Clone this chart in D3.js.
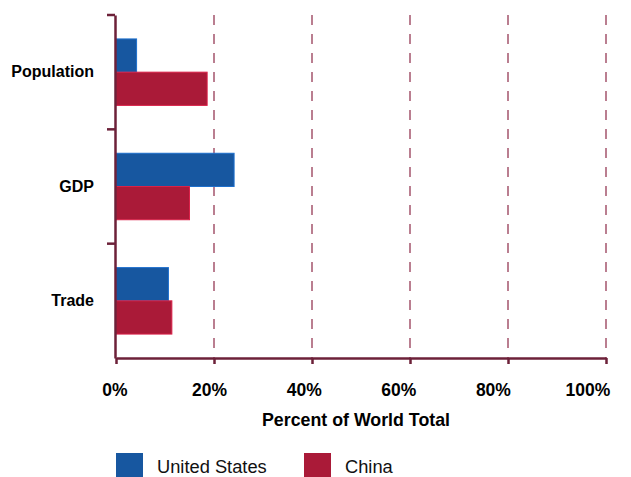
<!DOCTYPE html>
<html>
<head>
<meta charset="utf-8">
<script src="https://cdn.jsdelivr.net/npm/d3@7"></script>
<style>
  body { margin: 0; background: #fff; }
  svg { display: block; font-family: 'Liberation Sans', Arial, Helvetica, sans-serif; }
</style>
</head>
<body>
<svg id="chart" width="631" height="477"></svg>
<script>
// chart data
var categories = ['Population', 'GDP', 'Trade']
var seriesNames = ['United States', 'China']
var usValues = [4.2, 24.1, 10.7]
var chinaValues = [18.6, 15.0, 11.4]
var tickValues = [0, 20, 40, 60, 80, 100]
var axisTitle = 'Percent of World Total'

var colors = ['#1757a0', '#aa1a38']
var axisColor = '#6c2139'

var margin = { top: 15, left: 116, right: 25, bottom: 119 }
var svg = d3.select('#chart')
var width = +svg.attr('width') - margin.left - margin.right
var height = +svg.attr('height') - margin.top - margin.bottom

var rows = categories.map(function (c, i) {
  return { category: c, values: [usValues[i], chinaValues[i]] }
})

var x = d3.scaleLinear().domain([0, 100]).range([margin.left, margin.left + width])
// tick labels in the original sit a bit left of their ticks
var xLabel = d3.scaleLinear().domain([0, 100]).range([margin.left - 1, margin.left + width - 18])
var y = d3.scaleBand().domain(categories).range([margin.top, margin.top + height]).padding(0)
var ySub = d3.scaleBand().domain(seriesNames).range([0, y.bandwidth()])
  .paddingInner(0).paddingOuter(0.72)

// dashed grid lines
svg.append('g')
  .selectAll('line')
  .data(tickValues.slice(1))
  .enter()
  .append('line')
  .attr('x1', function (d) { return x(d) })
  .attr('x2', function (d) { return x(d) })
  .attr('y1', margin.top)
  .attr('y2', margin.top + height)
  .attr('stroke', '#a4546c')
  .attr('stroke-width', 1.5)
  .attr('stroke-dasharray', '10,9')

// bars
svg.append('g')
  .selectAll('g')
  .data(rows)
  .enter()
  .append('g')
  .attr('transform', function (d) { return 'translate(0,' + y(d.category) + ')' })
  .selectAll('rect')
  .data(function (d) {
    return d.values.map(function (v, i) { return { key: seriesNames[i], value: v, i: i } })
  })
  .enter()
  .append('rect')
  .attr('x', x(0))
  .attr('y', function (d) { return ySub(d.key) })
  .attr('width', function (d) { return x(d.value) - x(0) })
  .attr('height', ySub.bandwidth())
  .attr('fill', function (d) { return colors[d.i] })
  .attr('stroke', function (d) { return d3.color(colors[d.i]).brighter(0.7) })
  .attr('stroke-width', 1)

// x axis
var xAxis = svg.append('g')
  .attr('transform', 'translate(0,' + (margin.top + height) + ')')
  .call(d3.axisBottom(x).tickValues(tickValues).tickSize(6).tickSizeOuter(0).tickFormat(''))
xAxis.select('.domain').attr('stroke', axisColor).attr('stroke-width', 2.5)
xAxis.selectAll('.tick line').attr('stroke', axisColor).attr('stroke-width', 2.5)

svg.append('g')
  .selectAll('text')
  .data(tickValues)
  .enter()
  .append('text')
  .attr('x', function (d) { return xLabel(d) })
  .attr('y', margin.top + height + 38)
  .attr('text-anchor', 'middle')
  .attr('font-size', '17.5px')
  .attr('font-weight', 'bold')
  .attr('fill', '#000')
  .text(function (d) { return d + '%' })

svg.append('text')
  .attr('x', 356)
  .attr('y', margin.top + height + 68)
  .attr('text-anchor', 'middle')
  .attr('font-size', '17.8px')
  .attr('font-weight', 'bold')
  .text(axisTitle)

// y axis
var yAxis = svg.append('g')
  .attr('transform', 'translate(' + (x(0) - 1) + ',0)')
  .call(d3.axisLeft(y).tickSize(0).tickPadding(21))
yAxis.select('.domain').attr('stroke', axisColor).attr('stroke-width', 2.5)
yAxis.selectAll('.tick text')
  .attr('font-size', '16px')
  .attr('font-weight', 'bold')
  .attr('font-family', "'Liberation Sans', Arial, sans-serif")
  .attr('fill', '#000')

// separator ticks at the start of each band
yAxis.selectAll('.sep')
  .data(categories)
  .enter()
  .append('line')
  .attr('class', 'sep')
  .attr('x1', -8)
  .attr('x2', 0)
  .attr('y1', function (d) { return y(d) })
  .attr('y2', function (d) { return y(d) })
  .attr('stroke', axisColor)
  .attr('stroke-width', 2.5)

// legend
var legendX = [116, 304]
var legend = svg.append('g')
  .selectAll('g')
  .data(seriesNames)
  .enter()
  .append('g')
  .attr('transform', function (d, i) { return 'translate(' + legendX[i] + ',453)' })
legend.append('rect')
  .attr('width', 27)
  .attr('height', 27)
  .attr('fill', function (d, i) { return colors[i] })
legend.append('text')
  .attr('x', 41)
  .attr('y', 20)
  .attr('font-size', '18.3px')
  .attr('fill', '#111')
  .text(function (d) { return d })
</script>
</body>
</html>
